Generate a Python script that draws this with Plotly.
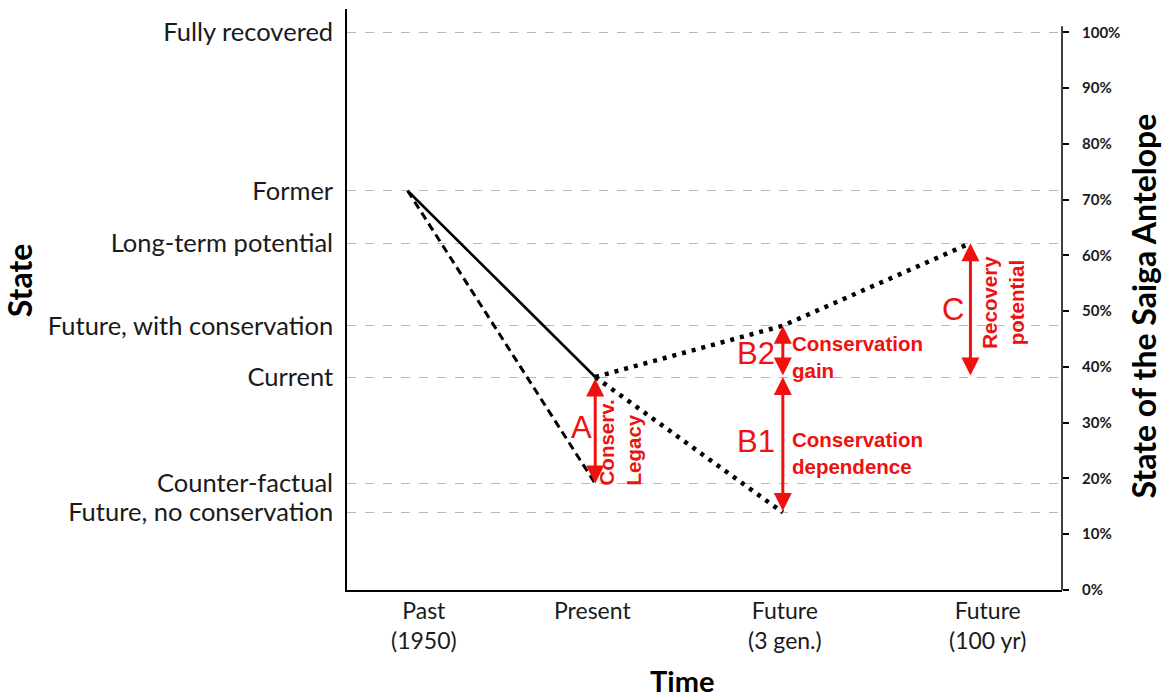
import plotly.graph_objects as go

# ---------------- data ----------------
time_pos = [0, 1, 2, 3]
time_labels = ["Past<br>(1950)", "Present", "Future<br>(3 gen.)", "Future<br>(100 yr)"]

state_names = ["Fully recovered", "Former", "Long-term potential",
               "Future, with conservation", "Current", "Counter-factual",
               "Future, no conservation"]
state_values = [100.0, 71.6, 62.2, 47.4, 38.2, 19.1, 13.9]
S = dict(zip(state_names, state_values))

pct_ticks = [0, 10, 20, 30, 40, 50, 60, 70, 80, 90, 100]

actual_x = [0, 1]
actual_y = [S["Former"], S["Current"]]
counterfactual_x = [0, 1]
counterfactual_y = [S["Former"], S["Counter-factual"]]
with_cons_x = [1, 2, 3]
with_cons_y = [S["Current"], S["Future, with conservation"], S["Long-term potential"]]
no_cons_x = [1, 2]
no_cons_y = [S["Current"], S["Future, no conservation"]]

# ---------------- styling / layout constants ----------------
RED = "#f01010"
LABEL_FONT = "Lato, 'Open Sans', sans-serif"
ARIAL = "'Liberation Sans', Arial, sans-serif"
Y_TOP = 104.2
X_RANGE = [-0.323, 3.488]
LABEL_SHIFT_PX = [16, -3, 2, 17]   # horizontal nudges of the time labels

fig = go.Figure()

fig.add_trace(go.Scatter(x=actual_x, y=actual_y, mode="lines",
                         line=dict(color="black", width=2.6), hoverinfo="skip"))
fig.add_trace(go.Scatter(x=counterfactual_x, y=counterfactual_y, mode="lines",
                         line=dict(color="black", width=3, dash="8px,5px"), hoverinfo="skip"))
fig.add_trace(go.Scatter(x=with_cons_x, y=with_cons_y, mode="lines",
                         line=dict(color="black", width=4.5, dash="4px,6px"), hoverinfo="skip"))
fig.add_trace(go.Scatter(x=no_cons_x, y=no_cons_y, mode="lines",
                         line=dict(color="black", width=4.5, dash="4px,6px"), hoverinfo="skip"))
# invisible trace so the right percentage axis is drawn
fig.add_trace(go.Scatter(x=[0], y=[0], yaxis="y2", mode="markers",
                         marker=dict(opacity=0), hoverinfo="skip"))

# double-headed red arrows
arrows = [
    (1, S["Current"], S["Counter-factual"]),
    (2, S["Current"], S["Future, with conservation"]),
    (2, S["Future, no conservation"], S["Current"]),
    (3, S["Current"], S["Long-term potential"]),
]
for xa, y0, y1 in arrows:
    fig.add_annotation(x=xa, y=y1, ax=xa, ay=y0, xref="x", yref="y", axref="x", ayref="y",
                       text="", showarrow=True, arrowside="end+start", arrowhead=2,
                       arrowsize=1.2, arrowwidth=3, arrowcolor=RED, standoff=0, startstandoff=0)

def red_text(text, x, y, xshift, size, bold=True, angle=0, xanchor="center", align="center"):
    fig.add_annotation(x=x, y=y, xref="x", yref="y", text=text, showarrow=False,
                       xshift=xshift, xanchor=xanchor, yanchor="middle", align=align,
                       textangle=angle,
                       font=dict(family=ARIAL, size=size, color=RED,
                                 weight="bold" if bold else "normal"))

red_text("A", 1, 29.1, -14, 31, bold=False)
red_text("Conserv.<br>Legacy", 1, 26.5, 25, 20.5, angle=-90, align="left")
red_text("B2", 2, 42.4, -27, 31, bold=False)
red_text("Conservation<br>gain", 2, 41.8, 7, 20.5, xanchor="left", align="left")
red_text("B1", 2, 26.6, -27, 31, bold=False)
red_text("Conservation<br>dependence", 2, 24.6, 7, 20.5, xanchor="left", align="left")
red_text("C", 3, 50.3, -17, 31, bold=False)
red_text("Recovery<br>potential", 3, 51.6, 33, 20.5, angle=-90)

# time labels positioned through the x axis
for xp, txt, sh in zip(time_pos, time_labels, LABEL_SHIFT_PX):
    fig.add_annotation(x=xp, y=0, xref="x", yref="paper", text=txt, showarrow=False,
                       xshift=sh, yshift=-4, xanchor="center", yanchor="top",
                       font=dict(family=LABEL_FONT, size=23, color="#1a1a1a"))

# axis titles
fig.add_annotation(x=-0.487, y=0.5336, xref="paper", yref="paper", text="State", showarrow=False,
                   textangle=-90, font=dict(family=LABEL_FONT, size=32, color="black", weight="bold"))
fig.add_annotation(x=1.1427, y=0.4888, xref="paper", yref="paper", text="State of the Saiga Antelope",
                   showarrow=False, textangle=-90,
                   font=dict(family=LABEL_FONT, size=32, color="black", weight="bold"))
fig.add_annotation(x=0.4685, y=-0.155, xref="paper", yref="paper", text="Time", showarrow=False,
                   yanchor="middle",
                   font=dict(family=LABEL_FONT, size=29, color="black", weight="bold"))

# right axis line (shape)
fig.add_shape(type="line", xref="paper", yref="y", x0=1, x1=1, y0=0, y1=101.1,
              line=dict(color="black", width=1.5))

fig.update_layout(
    width=1170, height=698,
    margin=dict(l=347, r=108, t=9, b=108),
    paper_bgcolor="white", plot_bgcolor="white",
    showlegend=False, hovermode=False,
    xaxis=dict(range=X_RANGE, tickvals=time_pos, showticklabels=False,
               showgrid=False, zeroline=False, showline=True, linecolor="black", linewidth=1.5,
               ticks=""),
    yaxis=dict(range=[0, Y_TOP], tickvals=state_values, ticktext=state_names,
               showgrid=True, gridcolor="#b8b8b8", griddash="dash", gridwidth=1,
               zeroline=False, showline=True, linecolor="black", linewidth=1.5,
               ticks="", ticklabelstandoff=7,
               tickfont=dict(family=LABEL_FONT, size=25.5, color="#1a1a1a")),
    yaxis2=dict(range=[0, Y_TOP], overlaying="y", side="right",
                tickvals=pct_ticks, ticktext=[f"{v}%" for v in pct_ticks],
                showgrid=False, zeroline=False, showline=False,
                ticks="outside", ticklen=6, tickwidth=1.5, tickcolor="black",
                ticklabelstandoff=10,
                tickfont=dict(family=LABEL_FONT, size=15, color="#1a1a1a", weight="bold")),
)

fig.write_html("out.html", config={"displayModeBar": False},
               post_script="document.body.style.margin='0';document.body.style.overflow='hidden';")
